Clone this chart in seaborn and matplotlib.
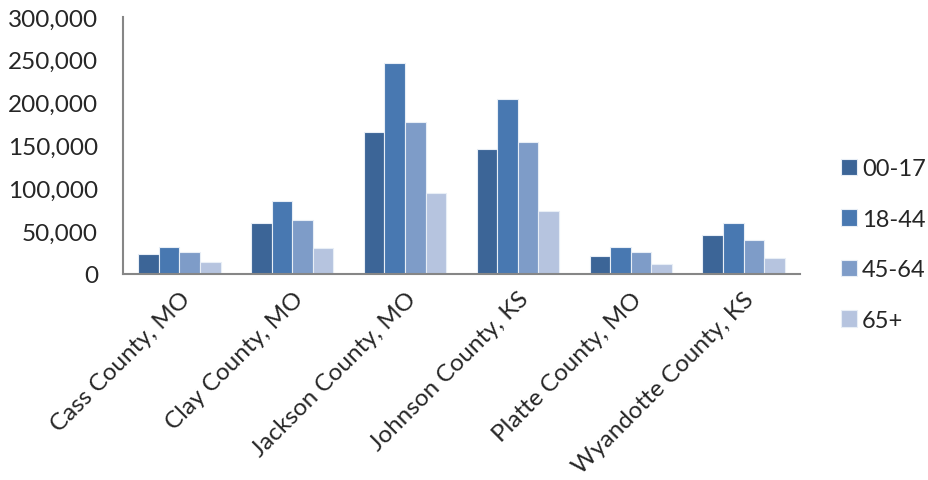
import matplotlib
matplotlib.use("Agg")
import matplotlib.pyplot as plt
import matplotlib.ticker as mticker
import seaborn as sns
import pandas as pd

counties = ["Cass County, MO", "Clay County, MO", "Jackson County, MO",
            "Johnson County, KS", "Platte County, MO", "Wyandotte County, KS"]
age_groups = ["00-17", "18-44", "45-64", "65+"]
pop_00_17 = [23900, 59000, 165700, 145400, 21000, 45500]
pop_18_44 = [31700, 85400, 245800, 204200, 31900, 59900]
pop_45_64 = [25900, 63200, 177800, 154000, 26000, 39200]
pop_65_up = [14200, 30900, 94500, 73500, 12000, 19000]
colors = ["#3C6597", "#4878B1", "#7E9CC8", "#B6C4DF"]

series = [pop_00_17, pop_18_44, pop_45_64, pop_65_up]
rows = []
for grp, vals in zip(age_groups, series):
    for c, v in zip(counties, vals):
        rows.append({"County": c, "Age": grp, "Population": v})
df = pd.DataFrame(rows)

sns.set_style("white")
plt.rcParams["font.family"] = ["Lato", "DejaVu Sans"]
FS = 17.5

fig = plt.figure(figsize=(9.29, 4.81), dpi=100)
ax = fig.add_axes([0.1324, 0.4283, 0.7287, 0.5343])

sns.barplot(data=df, x="County", y="Population", hue="Age", order=counties,
            hue_order=age_groups, palette=colors, saturation=1, width=0.73,
            gap=0, edgecolor="#E8EEF6", linewidth=0.8, ax=ax, legend=True)

ax.set_xlim(-0.5, 5.5)
ax.set_ylim(0, 300000)
ax.yaxis.set_major_locator(mticker.MultipleLocator(50000))
ax.yaxis.set_major_formatter(mticker.FuncFormatter(lambda v, p: f"{int(v):,}"))
ax.set_xlabel("")
ax.set_ylabel("")

for side in ["top", "right"]:
    ax.spines[side].set_visible(False)
for side in ["left", "bottom"]:
    ax.spines[side].set_color("#868686")
    ax.spines[side].set_linewidth(1.5)

ax.set_xticks(range(len(counties)))
ax.set_xticklabels(counties, rotation=45, ha="right", rotation_mode="anchor",
                   fontsize=FS)
ax.tick_params(axis="x", which="major", length=0, pad=10)
ax.set_xticks([i - 0.5 for i in range(len(counties) + 1)], minor=True)
ax.tick_params(axis="x", which="minor", length=6, width=1.5, color="#868686",
               direction="out")
ax.tick_params(axis="y", length=6, width=1.5, color="#868686", direction="out",
               labelsize=FS, pad=12)

leg = ax.legend(loc="center left", bbox_to_anchor=(1.06, 0.115), frameon=False,
                fontsize=17, handlelength=0.7, handleheight=0.7,
                handletextpad=0.2, labelspacing=1.25, borderaxespad=0,
                borderpad=0)

fig.savefig("out.png", dpi=100)
